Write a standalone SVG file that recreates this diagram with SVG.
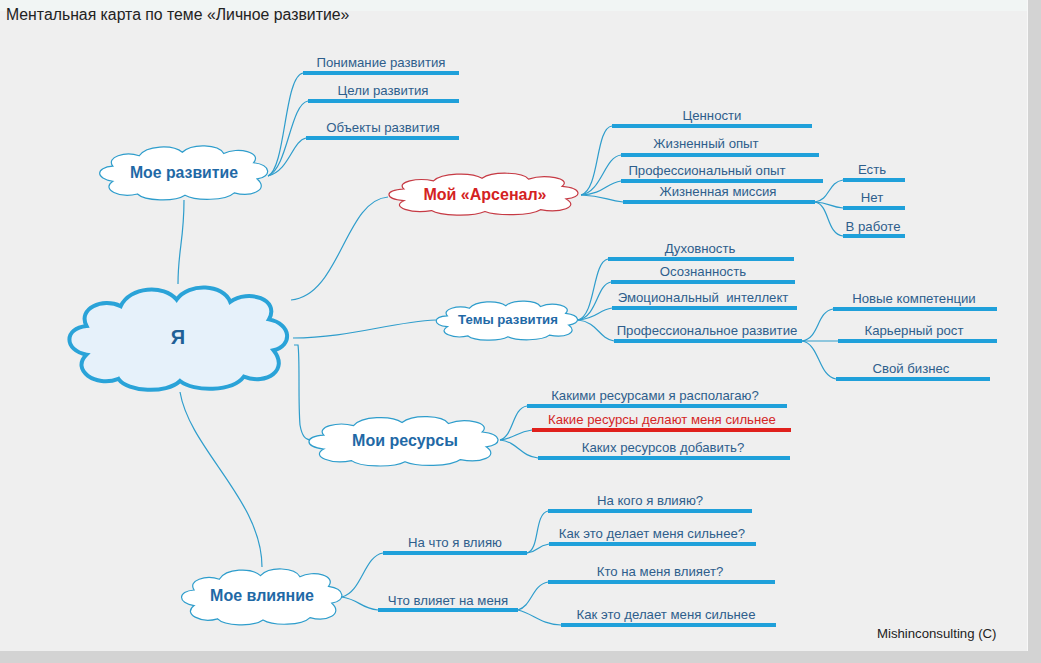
<svg xmlns="http://www.w3.org/2000/svg" xmlns:xlink="http://www.w3.org/1999/xlink" width="1041" height="663" viewBox="0 0 1041 663">
<style>
text{font-family:"Liberation Sans",Arial,sans-serif}
.lbl{font-size:13.2px;fill:#2e5e8c;text-anchor:middle}
.red{fill:#d42626}
.bar{stroke:#1fa0da;stroke-width:4;fill:none}
.barred{stroke:#e0201c;stroke-width:4;fill:none}
.con{stroke:#2e9dcc;stroke-width:1.2;fill:none}
.ctxt{font-weight:bold;fill:#1f69a6;text-anchor:middle}
.cl{fill:#ffffff;stroke:#2e9dcc}
.cp{vector-effect:non-scaling-stroke}
</style>
<defs>
<symbol id="cloud" viewBox="0 0 200 100" preserveAspectRatio="none">
<path class="cp" d="M18,40 C10,24 32,14 48,22 C56,4 86,2 97,16 C108,0 138,2 144,18 C160,6 188,16 178,34 C198,38 199,58 182,62 C196,80 176,94 156,86 C146,100 112,100 100,90 C88,102 54,100 46,88 C26,96 4,80 18,66 C-2,62 -2,42 18,40 Z"/>
</symbol>
</defs>
<rect x="0" y="0" width="1041" height="663" fill="#d3d3d3"/>
<rect x="0" y="0" width="1027" height="651" fill="#efefef"/>
<rect x="0" y="0" width="1027" height="11" fill="#f1f5f4"/>
<line x1="1027.5" y1="0" x2="1027.5" y2="651" stroke="#f8f8f8" stroke-width="1"/>
<text x="6" y="20" font-size="15.8" fill="#222">Ментальная карта по теме «Личное развитие»</text>
<text x="877" y="638" font-size="13.2" fill="#222">Mishinconsulting (C)</text>

<g id="connectors">
<path class="con" d="M184,200 C184,240 178,250 178,284"/>
<path class="con" d="M291,300 C340,296 345,200 388,197"/>
<path class="con" d="M293,338 C350,338 390,322 436,320"/>
<path class="con" d="M294,345 L298,345 C300,360 298,400 300,425 C302,436 305,440 312,440"/>
<path class="con" d="M180,392 C190,450 262,500 262,567"/>
<path class="con" d="M268,176 C286,168 284,76 303,73"/>
<path class="con" d="M268,176 C288,168 290,104 308,101"/>
<path class="con" d="M268,176 C290,170 292,141 306,138"/>
<path class="con" d="M581,195 C600,190 595,128 612,126"/>
<path class="con" d="M581,195 C602,192 604,157 621,155"/>
<path class="con" d="M581,195 C604,194 606,183 621,181"/>
<path class="con" d="M581,195 C604,196 606,200 623,202"/>
<path class="con" d="M815,202 C830,200 828,182 843,180"/>
<path class="con" d="M815,202 C830,203 830,207 843,208"/>
<path class="con" d="M815,202 C830,205 826,234 843,236"/>
<path class="con" d="M578,320 C596,315 592,262 608,259"/>
<path class="con" d="M578,320 C598,316 596,285 611,282"/>
<path class="con" d="M578,320 C598,318 598,310 612,308"/>
<path class="con" d="M578,320 C598,322 598,338 614,341"/>
<path class="con" d="M802,341 C820,338 816,312 833,309"/>
<path class="con" d="M802,341 L838,341"/>
<path class="con" d="M802,341 C820,344 818,376 836,379"/>
<path class="con" d="M500,440 C514,436 512,408 527,406"/>
<path class="con" d="M500,440 C516,438 516,432 532,430"/>
<path class="con" d="M500,440 C518,442 520,456 538,458"/>
<path class="con" d="M342,597 C362,592 364,556 383,553"/>
<path class="con" d="M342,597 C360,600 360,608 378,610"/>
<path class="con" d="M527,553 C540,550 534,514 548,511"/>
<path class="con" d="M527,553 C538,552 536,546 549,544"/>
<path class="con" d="M518,610 C532,606 532,585 548,582"/>
<path class="con" d="M518,610 C534,614 540,624 561,625"/>
</g>

<g id="ya">
<use xlink:href="#cloud" x="66" y="282" width="228" height="110" style="fill:#e6f1fa;stroke:#2aa3d8;stroke-width:4"/>
<text class="ctxt" x="178" y="344" font-size="20" style="fill:#1f5f96">Я</text>
</g>

<g id="moe-razvitie">
<use xlink:href="#cloud" x="97" y="143" width="176" height="58" class="cl" style="stroke-width:1.2"/>
<text class="ctxt" x="184" y="178" font-size="15.8">Мое развитие</text>
<line class="bar" x1="303" y1="73" x2="459" y2="73"/>
<text class="lbl" x="381" y="67">Понимание развития</text>
<line class="bar" x1="308" y1="101" x2="459" y2="101"/>
<text class="lbl" x="383" y="95">Цели развития</text>
<line class="bar" x1="306" y1="138" x2="459" y2="138"/>
<text class="lbl" x="383" y="132">Объекты развития</text>
</g>

<g id="arsenal">
<use xlink:href="#cloud" x="386" y="171" width="198" height="45" style="fill:#ffffff;stroke:#c63a44;stroke-width:1.2"/>
<text class="ctxt" x="485" y="200" font-size="16" style="fill:#d42222">Мой «Арсенал»</text>
<line class="bar" x1="612" y1="126" x2="812" y2="126"/>
<text class="lbl" x="712" y="120">Ценности</text>
<line class="bar" x1="621" y1="155" x2="819" y2="155"/>
<text class="lbl" x="706" y="148">Жизненный опыт</text>
<line class="bar" x1="621" y1="181" x2="823" y2="181"/>
<text class="lbl" x="707" y="175">Профессиональный опыт</text>
<line class="bar" x1="623" y1="202" x2="815" y2="202"/>
<text class="lbl" x="718" y="196">Жизненная миссия</text>
<line class="bar" x1="843" y1="180" x2="905" y2="180"/>
<text class="lbl" x="872" y="174">Есть</text>
<line class="bar" x1="843" y1="208" x2="905" y2="208"/>
<text class="lbl" x="872" y="202">Нет</text>
<line class="bar" x1="843" y1="236" x2="905" y2="236"/>
<text class="lbl" x="873" y="231">В работе</text>
</g>

<g id="temy">
<use xlink:href="#cloud" x="434" y="299" width="148" height="42" class="cl" style="stroke-width:1.2"/>
<text class="ctxt" x="508" y="324" font-size="13.2">Темы развития</text>
<line class="bar" x1="608" y1="259" x2="794" y2="259"/>
<text class="lbl" x="700" y="253">Духовность</text>
<line class="bar" x1="611" y1="282" x2="795" y2="282"/>
<text class="lbl" x="703" y="276">Осознанность</text>
<line class="bar" x1="612" y1="308" x2="797" y2="308"/>
<text class="lbl" x="703" y="302" xml:space="preserve">Эмоциональный  интеллект</text>
<line class="bar" x1="614" y1="341" x2="802" y2="341"/>
<text class="lbl" x="707" y="335">Профессиональное развитие</text>
<line class="bar" x1="833" y1="309" x2="997" y2="309"/>
<text class="lbl" x="914" y="303">Новые компетенции</text>
<line class="bar" x1="838" y1="341" x2="997" y2="341"/>
<text class="lbl" x="914" y="335">Карьерный рост</text>
<line class="bar" x1="836" y1="379" x2="990" y2="379"/>
<text class="lbl" x="911" y="373">Свой бизнес</text>
</g>

<g id="resursy">
<use xlink:href="#cloud" x="306" y="414" width="198" height="53" class="cl" style="stroke-width:1.2"/>
<text class="ctxt" x="405" y="446" font-size="16">Мои ресурсы</text>
<line class="bar" x1="527" y1="406" x2="787" y2="406"/>
<text class="lbl" x="655" y="400">Какими ресурсами я располагаю?</text>
<line class="barred" x1="532" y1="430" x2="791" y2="430"/>
<text class="lbl red" x="662" y="424">Какие ресурсы делают меня сильнее</text>
<line class="bar" x1="538" y1="458" x2="790" y2="458"/>
<text class="lbl" x="663" y="452">Каких ресурсов добавить?</text>
</g>

<g id="vliyanie">
<use xlink:href="#cloud" x="179" y="566" width="168" height="60" class="cl" style="stroke-width:1.2"/>
<text class="ctxt" x="262" y="601" font-size="16">Мое влияние</text>
<line class="bar" x1="383" y1="553" x2="527" y2="553"/>
<text class="lbl" x="455" y="547">На что я влияю</text>
<line class="bar" x1="378" y1="610" x2="518" y2="610"/>
<text class="lbl" x="448" y="605">Что влияет на меня</text>
<line class="bar" x1="548" y1="511" x2="752" y2="511"/>
<text class="lbl" x="650" y="505">На кого я влияю?</text>
<line class="bar" x1="549" y1="544" x2="756" y2="544"/>
<text class="lbl" x="652" y="538">Как это делает меня сильнее?</text>
<line class="bar" x1="548" y1="582" x2="775" y2="582"/>
<text class="lbl" x="660" y="576">Кто на меня влияет?</text>
<line class="bar" x1="561" y1="625" x2="776" y2="625"/>
<text class="lbl" x="666" y="619">Как это делает меня сильнее</text>
</g>
</svg>
